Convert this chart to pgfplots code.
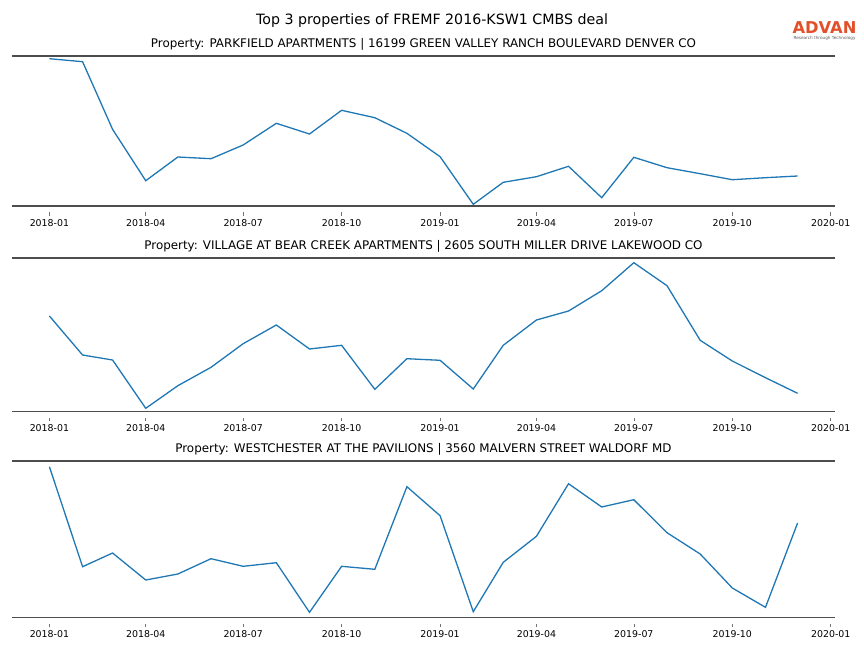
\documentclass[border=0pt]{standalone}
\usepackage{fontspec}
\setmainfont{DejaVu Sans}
\usepackage{pgfplots}
\pgfplotsset{compat=1.18}
\definecolor{mplblue}{HTML}{1F77B4}
\definecolor{spine}{HTML}{4D4D4D}
\definecolor{advan}{HTML}{E2502A}

% days since 2018-01-01 for each month start
\pgfplotsset{prop/.style={
    width=823pt, scale only axis,
    anchor=north west,
    xmin=-34.95, xmax=733.95, ymin=0,
    axis y line=none, axis x line=box,
    x axis line style={spine, line width=1.5pt, -},
    xtick={0,90,181,273,365,455,546,638,730},
    xticklabels={2018-01,2018-04,2018-07,2018-10,2019-01,2019-04,2019-07,2019-10,2020-01},
    xtick pos=left, xticklabel pos=left,
    tick align=outside, major tick length=3.5pt,
    xtick style={black!55, line width=0.6pt, yshift=-6pt},
    xticklabel style={font=\fontsize{9.4}{10}\selectfont, yshift=-6pt},
    /pgf/number format/assume math mode=true,
    title style={at={(0.5,1)}, anchor=base, yshift=2.5pt, font=\fontsize{11.9}{14}\selectfont},
    clip=false,
}}

\begin{document}
\begin{tikzpicture}
\useasboundingbox (0,0) rectangle (864pt,-648pt);
\node[anchor=base, font=\fontsize{14.2}{17}\selectfont] at (432pt,-24pt) {Top 3 properties of FREMF 2016-KSW1 CMBS deal};
\node[anchor=base, text=advan, font=\bfseries\fontsize{16.3}{20}\selectfont, inner sep=0pt] at (824.5pt,-33.5pt) {ADVAN};
\node[anchor=base, text=black!65, font=\fontsize{4.2}{5}\selectfont, inner sep=0pt] at (824.5pt,-39.8pt) {Research through Technology};

\begin{axis}[prop, at={(12pt,-56pt)}, height=150pt, ymax=150,
    title={Property: PARKFIELD APARTMENTS | 16199 GREEN VALLEY RANCH BOULEVARD DENVER CO}]
\addplot[mplblue, line width=1.3pt] table {
x y
0 147.3
31 144.3
59 76.7
90 25.3
120 49
151 47.3
181 61
212 82.7
243 72
273 95.7
304 88.3
334 72.7
365 49.3
396 1.7
424 23.7
455 29.3
485 39.7
516 8.3
546 48.7
577 38.3
608 32.3
638 26.3
669 28.3
699 30
};
\end{axis}

\begin{axis}[prop, at={(12pt,-258pt)}, height=153.7pt, ymax=153.7,
    title={Property: VILLAGE AT BEAR CREEK APARTMENTS | 2605 SOUTH MILLER DRIVE LAKEWOOD CO}]
\addplot[mplblue, line width=1.3pt] table {
x y
0 95.7
31 56.7
59 51.7
90 3.4
120 26
151 44.4
181 68
212 86.7
243 62.7
273 66.4
304 22.4
334 53
365 51.4
396 22.7
424 66.4
455 91.7
485 100.7
516 121
546 149
577 126
608 71.4
638 50.7
669 34
699 18.4
};
\end{axis}

\begin{axis}[prop, at={(12pt,-461pt)}, height=156.7pt, ymax=156.7,
    title={Property: WESTCHESTER AT THE PAVILIONS | 3560 MALVERN STREET WALDORF MD}]
\addplot[mplblue, line width=1.3pt] table {
x y
0 151
31 51
59 64.7
90 37.7
120 43.7
151 59
181 51.4
212 55
243 5.4
273 51.4
304 48.4
334 131
365 102
396 6
424 55.4
455 81.4
485 134
516 110.7
546 118
577 85
608 63.7
638 29.7
669 10.4
699 94.7
};
\end{axis}
\end{tikzpicture}
\end{document}
